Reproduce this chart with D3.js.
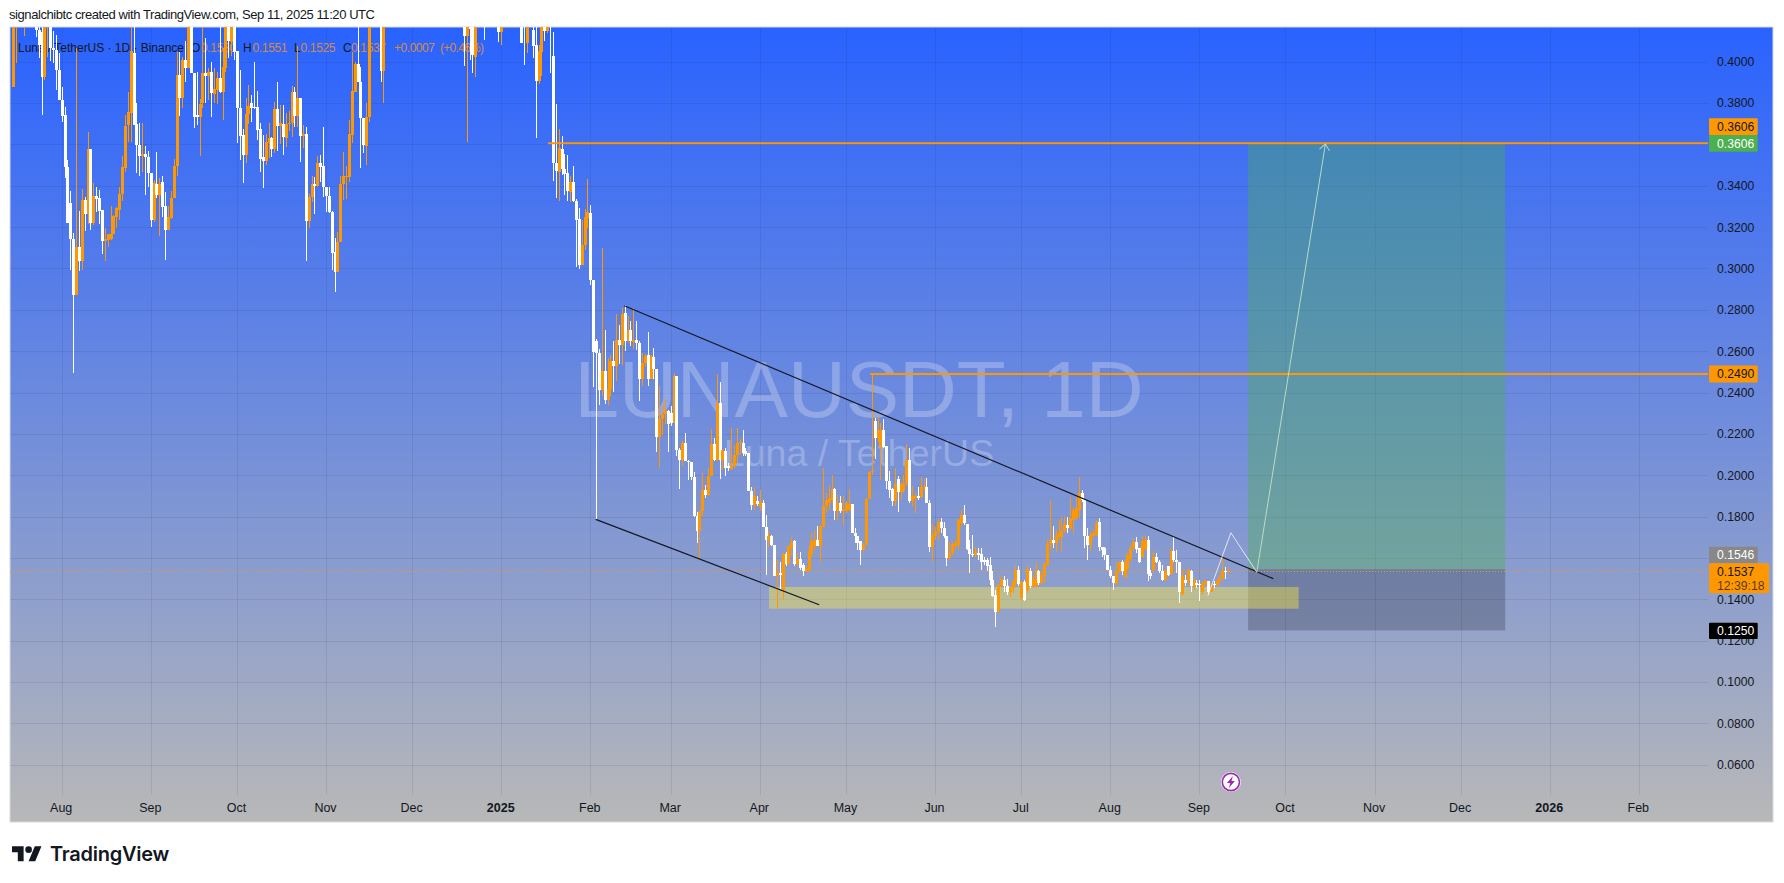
<!DOCTYPE html>
<html><head><meta charset="utf-8">
<script src="https://cdn.jsdelivr.net/npm/d3@7/dist/d3.min.js"></script>
<style>html,body{margin:0;padding:0;background:#fff;overflow:hidden}svg{display:block}text{font-family:"Liberation Sans",sans-serif}</style>
</head><body>
<script>
// ---- data (prices in USDT, days counted from 2024-08-01) ----
const baseDate = new Date(Date.UTC(2024,7,1));
const days = [-17,-16,-13,...d3.range(-9,108),111,112,140,141,142,143,144,147,152,153,160,161,162,...d3.range(164,407)];
const opens = [
.3879,.43,.43,.43,.4153,.4145,.3927,.42,.42,.4068,
.4056,.3960,.3815,.3742,.3493,.3316,.3142,.2870,.3106,.3037,
.3332,.3264,.3578,.3219,.3351,.3340,.3283,.3134,.3139,.3143,
.3166,.3251,.3283,.3359,.3485,.3694,.3750,.4040,.3697,.3597,
.3546,.3552,.3538,.3461,.3235,.3409,.3353,.3417,.3300,.3184,
.3243,.3343,.3498,.3936,.3826,.4008,.3971,.43,.3947,.3742,
.3734,.3799,.3944,.3932,.3948,.3844,.3863,.3919,.3855,.3971,
.42,.4097,.43,.4051,.3778,.3646,.3549,.3746,.3799,.3780,
.3779,.3675,.3541,.3522,.3607,.3630,.3578,.3770,.3689,.3700,
.3633,.3699,.3702,.3855,.3737,.3826,.3641,.3650,.3232,.3348,
.3409,.3399,.3509,.3494,.3396,.3351,.3275,.3079,.2981,.3127,
.3409,.3446,.3444,.3646,.3855,.3987,.3900,.3729,.3594,.3734,
.43,.3956,.44,.4124,.44,.44,.4024,.44,.44,.4145,
.44,.44,.4092,
.4153,.4080,.3908,.4048,.43,.4148,.44,.4029,.3509,.3469,
.3578,.3482,.3461,.3372,.3417,.3327,.3238,.3018,.3114,.3246,
.3267,.2942,.2647,.2591,.2411,.2503,.2366,.2419,.2554,.2527,
.2656,.2628,.2784,.2647,.2704,.2644,.2655,.2642,.2467,.2543,
.2583,.2467,.2572,.2515,.2184,.2272,.2296,.2309,.2301,.2253,
.2481,.2121,.2072,.2156,.2071,.2063,.1992,.1802,.1729,.1826,
.1931,.1907,.1995,.2153,.2076,.2349,.2076,.2116,.2043,.2031,
.2043,.2097,.2156,.2156,.2116,.2108,.1923,.1855,.1874,.1847,
.1866,.1750,.1686,.1705,.1665,.1512,.1528,.1445,.1617,.1569,
.1650,.1681,.1569,.1593,.1564,.1536,.1544,.1617,.1657,.1689,
.1660,.1750,.1850,.1866,.1879,.1934,.1826,.1866,.1826,.1826,
.1834,.1863,.1721,.1705,.1681,.1638,.1665,.1886,.2014,.2264,
.2180,.2135,.2220,.2140,.1974,.1934,.1874,.1982,.1918,.1923,
.1960,.2076,.1878,.1890,.1898,.1894,.1942,.1942,.1865,.1653,
.1707,.1728,.1773,.1744,.1704,.1599,.1624,.1659,.1664,.1769,
.1809,.1764,.1643,.1620,.1616,.1624,.1619,.1591,.1588,.1567,
.1495,.1422,.1337,.1466,.1495,.1466,.1434,.1455,.1483,.1540,
.1406,.1482,.1446,.1538,.1466,.1466,.1535,.1479,.1514,.1567,
.1669,.1688,.1672,.1701,.1701,.1733,.1760,.1744,.1785,.1793,
.1833,.1913,.1881,.1704,.1664,.1707,.1712,.1772,.1653,.1648,
.1616,.1543,.1514,.1475,.1535,.1579,.1508,.1551,.1595,.1648,
.1675,.1648,.1607,.1645,.1688,.1527,.1540,.1607,.1583,.1538,
.1495,.1562,.1522,.1636,.1591,.1583,.1427,.1495,.1487,.1535,
.1463,.1479,.1475,.1434,.1475,.1487,.1438,.1475,.1469,.1487,
.1503,.1535,.1530];
const highs = [
.43,.44,.44,.44,.43,.42,.43,.43,.43,.415,
.4129,.4040,.3879,.3783,.3525,.3375,.3171,.4064,.3279,.3385,
.3348,.3659,.3578,.3412,.3393,.3380,.3283,.3195,.3166,.3300,
.3259,.3295,.3396,.3544,.3742,.3852,.43,.42,.3799,.3702,
.3702,.3594,.3568,.3461,.3428,.3562,.3440,.3449,.3372,.3300,
.3375,.3530,.4045,.4048,.4024,.41,.43,.43,.3947,.3952,
.3820,.43,.4113,.3968,.3999,.3968,.3952,.43,.4068,.43,
.43,.43,.43,.4051,.3960,.3675,.3823,.3887,.3839,.3997,
.3858,.3702,.3646,.3649,.3702,.3635,.3803,.3903,.3791,.3791,
.3750,.3762,.3884,.3879,.4077,.3826,.3694,.3686,.3359,.3449,
.3444,.3546,.3549,.3686,.3396,.3396,.3279,.3147,.3176,.3449,
.3565,.3498,.3718,.4045,.3997,.43,.3976,.3729,.3799,.43,
.44,.44,.44,.44,.44,.44,.44,.44,.44,.44,
.44,.44,.44,
.43,.43,.4080,.43,.44,.43,.44,.4142,.3794,.3675,
.3641,.3552,.3549,.3449,.3496,.3337,.3292,.3235,.3288,.3433,
.3308,.2942,.2660,.2612,.3098,.2704,.2567,.2580,.2647,.2780,
.2728,.2808,.2825,.2768,.2747,.2808,.2744,.2647,.2591,.2588,
.2695,.2583,.2615,.2515,.2433,.2341,.2369,.2314,.2333,.2494,
.2481,.2132,.2164,.2204,.2076,.2063,.2014,.1821,.1826,.2011,
.1952,.2035,.2225,.2180,.2489,.2449,.2124,.2132,.2059,.2229,
.2148,.2229,.2175,.2220,.2132,.2108,.1944,.1944,.1899,.1931,
.1882,.1810,.1729,.1713,.1665,.1589,.1580,.1625,.1628,.1657,
.1702,.1686,.1625,.1628,.1577,.1560,.1657,.1721,.1729,.1754,
.1762,.2035,.1915,.1955,.2003,.1939,.1907,.1899,.1899,.1874,
.1934,.1863,.1746,.1705,.1681,.1673,.1890,.2019,.2489,.2277,
.2285,.2253,.2272,.2140,.2019,.1939,.2035,.1995,.1966,.2003,
.2153,.2132,.1950,.1915,.1944,.1994,.1980,.1986,.1881,.1765,
.1752,.1788,.1793,.1776,.1704,.1675,.1675,.1688,.1793,.1830,
.1857,.1764,.1688,.1712,.1653,.1648,.1648,.1604,.1599,.1607,
.1535,.1443,.1476,.1511,.1514,.1498,.1471,.1495,.1559,.1559,
.1487,.1495,.1559,.1551,.1511,.1583,.1543,.1535,.1583,.1688,
.1881,.1756,.1736,.1785,.1798,.1801,.1798,.1897,.1849,.1897,
.1991,.1930,.1884,.1744,.1728,.1736,.1785,.1793,.1653,.1653,
.1616,.1559,.1514,.1579,.1583,.1590,.1591,.1624,.1664,.1696,
.1701,.1648,.1704,.1704,.1704,.1540,.1632,.1624,.1591,.1567,
.1546,.1562,.1648,.1707,.1640,.1583,.1543,.1519,.1546,.1543,
.1503,.1495,.1495,.1487,.1495,.1487,.1479,.1487,.1495,.1519,
.1607,.1556,.1551];
const lows = [
.3879,.3995,.4125,.4120,.4019,.3742,.3911,.4024,.4003,.3995,
.3863,.3815,.3710,.3436,.3219,.2994,.2495,.2870,.2986,.2994,
.3182,.3214,.3187,.3211,.3275,.3214,.3069,.3037,.3106,.3140,
.3166,.3198,.3235,.3324,.3469,.3613,.3613,.3694,.3464,.3449,
.3469,.3353,.3396,.3203,.3227,.3340,.3159,.3251,.3042,.3184,
.3240,.3343,.3449,.3739,.3775,.39,.3971,.3947,.3681,.3694,
.3546,.3775,.3799,.3815,.3734,.3799,.3794,.3847,.3718,.3950,
.4020,.4027,.4008,.3605,.3525,.3415,.3509,.3697,.3710,.3770,
.3622,.3469,.3388,.3501,.3533,.3541,.3557,.3568,.3601,.3549,
.3589,.3665,.3638,.3686,.3686,.3517,.3581,.3034,.3195,.3320,
.3263,.3396,.3420,.3348,.3272,.3267,.2994,.2886,.2981,.3127,
.3332,.3337,.3417,.3605,.3855,.3900,.3485,.3559,.3501,.3710,
.3903,.3802,.3980,.3613,.4008,.3943,.3927,.4104,.4096,.4080,
.4092,.3984,.4043,
.4019,.3630,.3890,.3932,.4100,.4140,.3944,.3424,.3343,.3327,
.3452,.3356,.3324,.3320,.3320,.3005,.2997,.3015,.3089,.3195,
.2918,.2425,.1787,.2338,.2382,.2345,.2338,.2382,.2401,.2454,
.2538,.2535,.2599,.2639,.2623,.2612,.2607,.2357,.2433,.2526,
.2433,.2465,.2465,.2111,.2035,.2196,.2249,.2111,.2237,.2253,
.2092,.1934,.2043,.2068,.1979,.1976,.1799,.1673,.1601,.1805,
.1890,.1899,.1995,.2068,.2068,.1984,.2027,.1995,.2019,.2027,
.2035,.2059,.2100,.2092,.2092,.1923,.1831,.1834,.1850,.1826,
.1750,.1520,.1652,.1657,.1512,.1359,.1448,.1403,.1561,.1565,
.1609,.1561,.1561,.1544,.1512,.1531,.1536,.1609,.1641,.1657,
.1577,.1750,.1818,.1834,.1866,.1786,.1786,.1818,.1762,.1818,
.1826,.1721,.1673,.1641,.1568,.1633,.1665,.1886,.2000,.2080,
.2160,.1979,.2132,.1934,.1890,.1850,.1850,.1821,.1882,.1915,
.1947,.1866,.1850,.1818,.1882,.1889,.1925,.1865,.1627,.1579,
.1688,.1688,.1720,.1696,.1562,.1591,.1616,.1640,.1640,.1752,
.1760,.1640,.1527,.1607,.1607,.1591,.1543,.1567,.1535,.1471,
.1411,.1265,.1337,.1455,.1434,.1422,.1411,.1430,.1471,.1466,
.1395,.1390,.1430,.1455,.1455,.1455,.1471,.1471,.1479,.1562,
.1640,.1648,.1627,.1688,.1636,.1720,.1720,.1736,.1720,.1785,
.1793,.1873,.1648,.1588,.1632,.1696,.1704,.1632,.1607,.1591,
.1540,.1503,.1446,.1471,.1527,.1520,.1503,.1543,.1583,.1632,
.1624,.1575,.1599,.1632,.1487,.1500,.1527,.1575,.1527,.1487,
.1487,.1511,.1519,.1583,.1527,.1382,.1414,.1463,.1463,.1434,
.1446,.1455,.1390,.1422,.1463,.1419,.1434,.1455,.1463,.1479,
.1492,.1498,.1525];
const closes = [
.43,.44,.44,.4153,.4080,.3927,.4161,.43,.4064,.4056,
.3960,.3815,.3739,.3493,.3219,.3142,.2873,.3106,.3037,.3332,
.3264,.3578,.3219,.3351,.3337,.3279,.3134,.3143,.3166,.3166,
.3256,.3292,.3359,.3490,.3689,.3755,.4051,.3694,.3597,.3546,
.3552,.3538,.3461,.3235,.3412,.3353,.3409,.3295,.3187,.3251,
.3343,.3494,.3936,.3826,.4008,.3968,.43,.3947,.3734,.3734,
.3794,.3944,.3932,.3948,.3847,.3868,.3919,.3855,.3974,.42,
.4100,.43,.4048,.3778,.3642,.3549,.3746,.3786,.3778,.3778,
.3670,.3530,.3522,.3610,.3633,.3578,.3770,.3689,.3704,.3638,
.3699,.3702,.3855,.3737,.3826,.3641,.3649,.3232,.3348,.3407,
.3399,.3510,.3493,.3396,.3351,.3271,.3074,.2981,.3127,.3409,
.3446,.3449,.3649,.3858,.3987,.3900,.3729,.3597,.3734,.43,
.3956,.44,.4124,.44,.4160,.4032,.44,.43,.4145,.44,
.4092,.43,.44,
.4077,.3908,.4051,.43,.4150,.43,.43,.3509,.3472,.3581,
.3482,.3459,.3375,.3417,.3324,.3235,.3018,.3114,.3251,.3271,
.2942,.2594,.2591,.2411,.2503,.2366,.2419,.2554,.2527,.2656,
.2628,.2781,.2647,.2704,.2647,.2655,.2639,.2467,.2543,.2578,
.2467,.2578,.2515,.2184,.2272,.2296,.2309,.2250,.2253,.2481,
.2121,.2076,.2156,.2071,.2063,.1992,.1802,.1729,.1826,.1931,
.1907,.1998,.2153,.2076,.2349,.2076,.2121,.2035,.2035,.2047,
.2100,.2156,.2159,.2108,.2105,.1923,.1858,.1899,.1863,.1870,
.1750,.1689,.1705,.1665,.1512,.1528,.1520,.1617,.1569,.1657,
.1676,.1569,.1596,.1552,.1536,.1552,.1633,.1681,.1689,.1660,
.1754,.1853,.1882,.1890,.1934,.1826,.1866,.1826,.1837,.1866,
.1863,.1721,.1705,.1673,.1638,.1665,.1886,.2014,.2020,.2180,
.2220,.2220,.2135,.1974,.1931,.1878,.1960,.1918,.1960,.1960,
.2076,.1878,.1899,.1902,.1890,.1942,.1948,.1865,.1651,.1712,
.1728,.1773,.1744,.1704,.1599,.1624,.1669,.1672,.1785,.1809,
.1769,.1643,.1620,.1616,.1632,.1616,.1583,.1579,.1562,.1492,
.1414,.1337,.1471,.1498,.1463,.1434,.1455,.1487,.1540,.1474,
.1482,.1395,.1546,.1463,.1498,.1540,.1479,.1519,.1572,.1669,
.1685,.1672,.1712,.1720,.1733,.1765,.1744,.1793,.1833,.1841,
.1913,.1881,.1704,.1664,.1712,.1720,.1769,.1653,.1640,.1616,
.1543,.1511,.1479,.1535,.1579,.1535,.1575,.1616,.1648,.1675,
.1643,.1583,.1680,.1688,.1524,.1514,.1607,.1583,.1535,.1495,
.1535,.1519,.1636,.1591,.1583,.1438,.1514,.1479,.1543,.1463,
.1487,.1471,.1471,.1479,.1487,.1438,.1471,.1469,.1487,.1503,
.1535,.1530,.1537];

const priceTicks = [.40,.38,.36,.34,.32,.30,.28,.26,.24,.22,.20,.18,.16,.14,.12,.10,.08,.06];
const hiddenPriceLabels = [.36,.16]; // covered by the price badges in the reference
const monthDates = ["2024-08-01","2024-09-01","2024-10-01","2024-11-01","2024-12-01","2025-01-01","2025-02-01","2025-03-01","2025-04-01","2025-05-01","2025-06-01","2025-07-01","2025-08-01","2025-09-01","2025-10-01","2025-11-01","2025-12-01","2026-01-01","2026-02-01"];
const monthLabels = ["Aug","Sep","Oct","Nov","Dec","2025","Feb","Mar","Apr","May","Jun","Jul","Aug","Sep","Oct","Nov","Dec","2026","Feb"];

// drawings: [day offset, price]
const upperTrend = [[195.85,.2820],[421.8,.1500]];
const lowerTrend = [[185.9,.1787],[263.7,.1374]];
const resistanceLevels = [{start:169.3,price:.3606},{start:281.4,price:.2490}];
const supportZone = {d0:246.2,d1:430.6,top:.1460,bottom:.1355};
const position = {d0:413,d1:502.5,target:.3606,entry:.1546,stop:.1250};
const zigzag = [[399,.1418],[407,.1722],[416,.1532]];
const arrowPath = [[416,.1529],[439.9,.3602]];
const lastPrice = .1537;
const legendItems = [
 {x:18,t:"Luna / TetherUS · 1D · Binance",c:"#131722",len:166},
 {x:191,t:"O",c:"#131722"},{x:201,t:"0.1530",c:"#ff9800",len:35},
 {x:243,t:"H",c:"#131722"},{x:252.5,t:"0.1551",c:"#ff9800",len:35},
 {x:294,t:"L",c:"#131722"},{x:300.5,t:"0.1525",c:"#ff9800",len:35},
 {x:343,t:"C",c:"#131722"},{x:351,t:"0.1537",c:"#ff9800",len:35},
 {x:394,t:"+0.0007",c:"#ff9800",len:41},{x:440,t:"(+0.46%)",c:"#ff9800",len:44}];
const badges = [
 {label:"0.3606",y0:118.3,y1:135,w:48.7,fill:"#ff9800",color:"#131722"},
 {label:"0.3606",y0:135,y1:151.7,w:48.7,fill:"#4caf50",color:"#ffffff"},
 {label:"0.2490",y0:365.5,y1:382.5,w:48.7,fill:"#ff9800",color:"#131722"},
 {label:"0.1546",y0:546.7,y1:562.9,w:48.7,fill:"#888888",color:"#ffffff"},
 {label:"0.1250",y0:622.7,y1:638.9,w:48.7,fill:"#000000",color:"#ffffff"}];

// ---- layout ----
const W=1784,H=883, plot={l:10,r:1773,t:27,b:822,axisX:1708,gridB:795};
if([opens,highs,lows,closes].some(a=>a.length!==days.length)) throw new Error("len "+[days.length,opens.length,highs.length,lows.length,closes.length]);

const dayDate = d=>new Date(baseDate.getTime()+d*864e5);
const parse = d3.utcParse("%Y-%m-%d");
const x = d3.scaleUtc().domain([baseDate,parse("2026-02-01")]).range([61.7,1638.8]);
const X = d=>x(dayDate(d));
const y = d3.scaleLinear().domain([.40,.06]).range([61.7,764.8]);

const svg = d3.select("body").append("svg").attr("width",W).attr("height",H);
const defs = svg.append("defs");
const grad = defs.append("linearGradient").attr("id","bg").attr("x1",0).attr("y1",0).attr("x2",0).attr("y2",1);
grad.append("stop").attr("offset",0).attr("stop-color","#2962ff");
grad.append("stop").attr("offset",1).attr("stop-color","#b8b8b8");
defs.append("clipPath").attr("id","clip").append("rect").attr("x",plot.l).attr("y",plot.t).attr("width",plot.axisX-plot.l+65).attr("height",plot.b-plot.t);
defs.append("marker").attr("id","ah").attr("markerUnits","userSpaceOnUse").attr("viewBox","-8 -7 10 14").attr("refX",0).attr("refY",0).attr("markerWidth",10).attr("markerHeight",14).attr("orient","auto")
 .append("path").attr("d","M-6,-5L0,0L-6,5").attr("fill","none").attr("stroke","#c8e6c9").attr("stroke-opacity",.8).attr("stroke-width",1);

svg.append("text").attr("x",9).attr("y",19).attr("font-size",13).attr("fill","#131722").attr("textLength",366).attr("lengthAdjust","spacing").text("signalchibtc created with TradingView.com, Sep 11, 2025 11:20 UTC");

svg.append("rect").attr("x",plot.l).attr("y",plot.t).attr("width",plot.r-plot.l).attr("height",plot.b-plot.t).attr("fill","url(#bg)").attr("stroke","#d6d9e0").attr("stroke-width",1);

const g = svg.append("g").attr("clip-path","url(#clip)");
// grid
g.append("g").selectAll("line").data(priceTicks).join("line").attr("x1",plot.l).attr("x2",plot.axisX).attr("y1",d=>Math.round(y(d))+.5).attr("y2",d=>Math.round(y(d))+.5).attr("stroke","#1a2350").attr("stroke-opacity",.1);
g.append("g").selectAll("line").data(monthDates).join("line").attr("x1",d=>Math.round(x(parse(d)))+.5).attr("x2",d=>Math.round(x(parse(d)))+.5).attr("y1",plot.t).attr("y2",plot.gridB).attr("stroke","#1a2350").attr("stroke-opacity",.1);

// watermark
g.append("text").attr("x",859).attr("y",417).attr("text-anchor","middle").attr("font-size",80).attr("fill","#fff").attr("fill-opacity",.25).text("LUNAUSDT, 1D");
g.append("text").attr("x",859).attr("y",466).attr("text-anchor","middle").attr("font-size",37.5).attr("fill","#fff").attr("fill-opacity",.25).text("Luna / TetherUS");

// legend
const legend = g.append("g").selectAll("text").data(legendItems).join("text").attr("x",d=>d.x).attr("y",52).attr("font-size",12).attr("fill",d=>d.c).attr("fill-opacity",d=>d.c==="#ff9800"?.8:1).text(d=>d.t);
legend.filter(d=>d.len).attr("textLength",d=>d.len).attr("lengthAdjust","spacing");

// filled drawings
const box=(x0,x1,p0,p1,fill,op)=>g.append("rect").attr("x",X(x0)).attr("width",X(x1)-X(x0)).attr("y",y(p0)).attr("height",y(p1)-y(p0)).attr("fill",fill).attr("fill-opacity",op);
box(position.d0,position.d1,position.target,position.entry,"#4caf50",.38);
box(position.d0,position.d1,position.entry,position.stop,"#000000",.2);
box(supportZone.d0,supportZone.d1,supportZone.top,supportZone.bottom,"#ffeb3b",.4);

// last price line
g.append("line").attr("x1",plot.l).attr("x2",plot.axisX).attr("y1",Math.round(y(lastPrice))+.5).attr("y2",Math.round(y(lastPrice))+.5).attr("stroke","#ff9800").attr("stroke-width",1).attr("stroke-dasharray","1 2").attr("shape-rendering","crispEdges");

// candles
const idx = d3.range(days.length);
const col = i=>closes[i]>=opens[i]?"#ff9800":"#ffffff";
g.append("g").selectAll("rect").data(idx).join("rect")
 .attr("x",i=>Math.round(X(days[i]))).attr("width",1)
 .attr("y",i=>y(highs[i])).attr("height",i=>y(lows[i])-y(highs[i])).attr("fill",col).attr("shape-rendering","crispEdges");
g.append("g").selectAll("rect").data(idx).join("rect")
 .attr("x",i=>Math.round(X(days[i]))-1).attr("width",3)
 .attr("y",i=>y(Math.max(opens[i],closes[i]))).attr("height",i=>Math.max(1,Math.abs(y(opens[i])-y(closes[i])))).attr("fill",col).attr("shape-rendering","crispEdges");

// lines
const ln = d3.line().x(d=>X(d[0])).y(d=>y(d[1]));
g.selectAll(".lvl").data(resistanceLevels).join("line").attr("x1",d=>X(d.start)).attr("x2",plot.axisX).attr("y1",d=>y(d.price)).attr("y2",d=>y(d.price)).attr("stroke","#ff9800").attr("stroke-width",2);
g.append("path").attr("d",ln(upperTrend)).attr("fill","none").attr("stroke","#131722").attr("stroke-width",1.2);
g.append("path").attr("d",ln(lowerTrend)).attr("fill","none").attr("stroke","#131722").attr("stroke-width",1.2);
g.append("path").attr("d",ln(zigzag)).attr("fill","none").attr("stroke","#f0f3fa").attr("stroke-opacity",.85).attr("stroke-width",1);
g.append("path").attr("d",ln(arrowPath)).attr("fill","none").attr("stroke","#c8e6c9").attr("stroke-opacity",.85).attr("stroke-width",1).attr("marker-end","url(#ah)");

// price axis
const yAxis = d3.axisRight(y).tickValues(priceTicks.filter(t=>!hiddenPriceLabels.includes(t))).tickFormat(d3.format(".4f")).tickSize(0).tickPadding(0);
const ya = svg.append("g").attr("transform",`translate(1717,0)`).call(yAxis);
ya.select(".domain").remove();
ya.selectAll("text").attr("font-family",'"Liberation Sans",sans-serif').attr("font-size",12.2).attr("fill","#131722");

// time axis
const xAxis = d3.axisBottom(x).tickValues(monthDates.map(parse)).tickFormat((d,i)=>monthLabels[i]).tickSize(0).tickPadding(0);
const xa = svg.append("g").attr("transform",`translate(-1,803)`).call(xAxis);
xa.select(".domain").remove();
xa.selectAll("text").attr("font-family",'"Liberation Sans",sans-serif').attr("font-size",12.5).attr("fill","#131722").attr("font-weight",(d,i)=>/^20/.test(monthLabels[i])?"700":"400");

// badges
const bg = svg.append("g").selectAll("g").data(badges).join("g");
bg.append("rect").attr("x",1709).attr("y",d=>d.y0).attr("width",d=>d.w).attr("height",d=>d.y1-d.y0).attr("rx",1).attr("fill",d=>d.fill);
bg.append("text").attr("x",1717).attr("y",d=>(d.y0+d.y1)/2+4.3).attr("font-size",12.2).attr("fill",d=>d.color).text(d=>d.label);
svg.append("rect").attr("x",1709).attr("y",563.3).attr("width",60).attr("height",30).attr("rx",2).attr("fill","#ff9800");
svg.append("text").attr("x",1717).attr("y",576).attr("font-size",12.2).attr("fill","#131722").text("0.1537");
svg.append("text").attr("x",1717).attr("y",590).attr("font-size",12.2).attr("fill","#131722").attr("fill-opacity",.75).text("12:39:18");

// event icon
const ev = svg.append("g").attr("transform",`translate(${X(407)},782)`);
ev.append("circle").attr("r",10).attr("fill","#fff");
ev.append("circle").attr("r",8.6).attr("fill","#fff").attr("stroke","#9c27b0").attr("stroke-width",1.6);
ev.append("path").attr("d","M2,-6L-4,1H-0.6L-2,6L4,-1H0.6Z").attr("fill","#9c27b0");

// logo
const logo = svg.append("g").attr("transform","translate(12,843) scale(.83)").attr("fill","#131722");
logo.append("path").attr("d","M14 22H7V11H0V4h14v18zM28 22h-8l7.5-18h8L28 22z");
logo.append("circle").attr("cx",20).attr("cy",8).attr("r",4);
svg.append("text").attr("x",50).attr("y",861).attr("font-size",20).attr("font-weight",600).attr("letter-spacing",-.25).attr("fill","#131722").style("font-family","Inter").text("TradingView");
</script>
</body></html>
